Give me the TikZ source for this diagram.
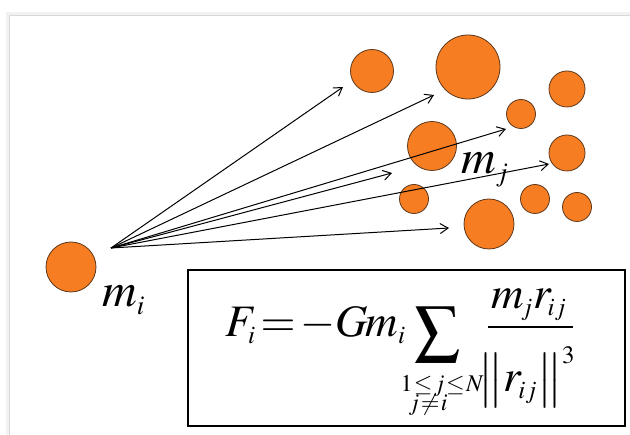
\documentclass[tikz,border=0pt]{standalone}
\usepackage{amsmath}
\usepackage{mathptmx}
\usetikzlibrary{arrows.meta}
\DeclareMathSizes{45}{45}{25}{19}
\DeclareMathSizes{48}{48}{27}{20}
\DeclareMathSizes{24}{24}{16}{12}
\definecolor{ballfill}{RGB}{246,125,34}
\definecolor{ballrim}{RGB}{95,55,25}
\tikzset{
  ball/.style={circle,fill=ballfill,draw=ballrim,line width=0.8pt,inner sep=0pt,minimum size=#1},
  force/.style={-{Straight Barb[length=8pt,width=10pt,line width=1pt]},line width=1pt},
  lab/.style={inner sep=0pt,anchor=base west,font=\fontsize{48}{58}\selectfont},
  eqbox/.style={draw,line width=1.6pt,inner sep=0pt,minimum width=437pt,minimum height=156pt},
  eqbig/.style={inner sep=0pt,font=\fontsize{45}{54}\selectfont},
  eqsmall/.style={inner sep=0pt,anchor=base,font=\fontsize{24}{28}\selectfont},
}
\begin{document}
\begin{tikzpicture}[x=1pt,y=-1pt]
\useasboundingbox (0,0) rectangle (630,435);
\fill[white] (0,0) rectangle (630,435);
% slide shadow
\draw[gray!10,line width=4pt] (8,435) -- (8,14) -- (630,14);
\draw[gray!30,line width=0.8pt] (9.5,435) -- (9.5,15.5) -- (630,15.5);
% bodies
\node[ball=50pt] (mi) at (71,267) {};
\node[ball=43pt] (b1) at (372,71) {};
\node[ball=64pt] (b2) at (468,67) {};
\node[ball=36pt] (b3) at (567,89) {};
\node[ball=29pt] (b4) at (521,114) {};
\node[ball=49pt] (b5) at (432,146) {};
\node[ball=36pt] (b6) at (567,153) {};
\node[ball=29pt] (b7) at (414,199) {};
\node[ball=29pt] (b8) at (535,199) {};
\node[ball=29pt] (b9) at (577,207) {};
\node[ball=50pt] (b10) at (489,224) {};
% forces
\coordinate (src) at (111,248);
\coordinate (t1) at (343,87);
\coordinate (t2) at (434,95);
\coordinate (t3) at (506,129);
\coordinate (t4) at (392,173);
\coordinate (t5) at (549,164);
\coordinate (t6) at (449,228);
\foreach \t in {t1,t2,t3,t4,t5,t6} \draw[force] (src) -- (\t);
% labels
\node[lab] (lmi) at (102,307) {$m_i$};
\node[lab] (lmj) at (461,174) {$m_j$};
% equation
\node[eqbox] (box) at (406.5,348) {};
\node[eqbig,anchor=base west] (lhs) at (225,337)
  {$\thickmuskip=2mu F_i = -G\mskip-1mu m_i$};
\node[eqbig,anchor=base] (sum) at (438,346) {$\displaystyle\sum$};
\node[eqsmall] (lim1) at (442,392) {$\thickmuskip=1mu 1\le j\le N$};
\node[eqsmall] (lim2) at (428,411) {$\thickmuskip=1mu j\ne i$};
\node[eqbig,anchor=base] (num) at (529,309) {$m_{\!j} r_{\!ij}$};
\coordinate (barl) at (488,327);
\coordinate (barr) at (573,327);
\draw[line width=1.5pt] (barl) -- (barr);
\node[eqbig,anchor=base] (den) at (527,392) {$\bigl\| r_{\!ij}\bigr\|^3$};
\end{tikzpicture}
\end{document}
